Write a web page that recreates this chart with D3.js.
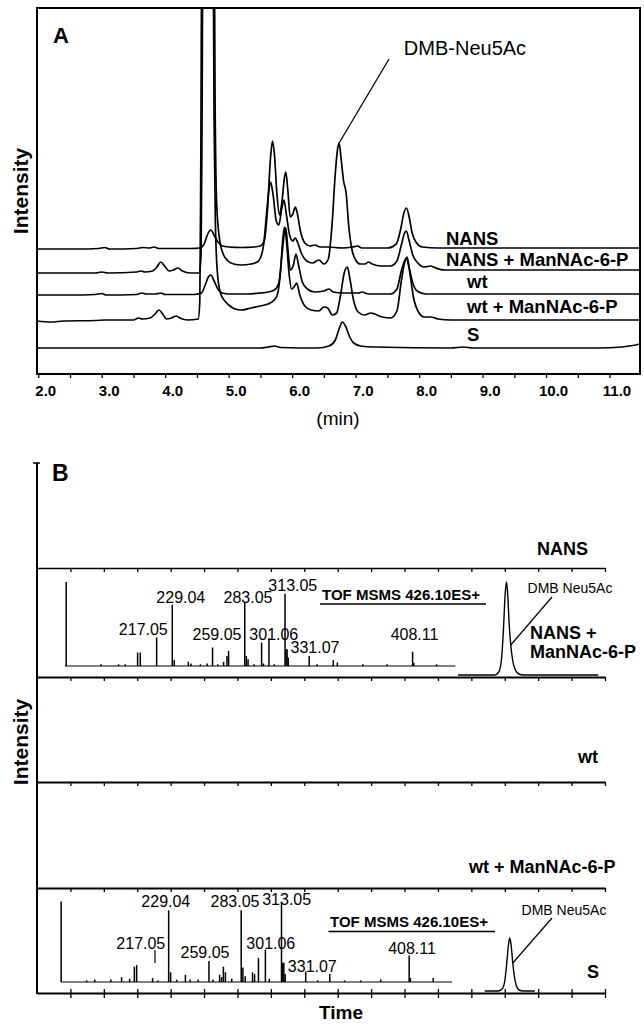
<!DOCTYPE html>
<html>
<head>
<meta charset="utf-8">
<script src="https://cdn.jsdelivr.net/npm/d3@7"></script>
<style>
  body { margin: 0; background: #fff; }
  svg text { font-family: "Liberation Sans", Arial, sans-serif; fill: #000; }
</style>
</head>
<body>
<svg id="fig"></svg>
<script>
// ---- data ----
// panel A: HPLC traces, [minutes, intensity above the trace's own baseline]
const minutesA = [2, 3, 4, 5, 6, 7, 8, 9, 10, 11];
const minuteLabelsA = ["2.0", "3.0", "4.0", "5.0", "6.0", "7.0", "8.0", "9.0", "10.0", "11.0"];
const tickStepsA = [2, 2.5, 3, 3.5, 4, 4.5, 5, 5.5, 6, 6.5, 7, 7.5, 8, 8.5, 9, 9.5, 10, 10.5, 11];
const sampleNames = ["NANS", "NANS + ManNAc-6-P", "wt", "wt + ManNAc-6-P", "S"];

const traceNANS = [[1.98,0],[2.6,0],[2.95,0.5],[3.05,1.5],[3.12,0],[3.55,0.5],[3.65,1.5],[3.75,1],[3.82,2],[3.9,0.5],[4.4,0.5],[4.55,1],[4.62,6],[4.67,15],[4.72,19],[4.77,14],[4.83,7],[4.9,3],[5.0,2],[5.2,1.5],[5.4,2],[5.5,3],[5.56,8],[5.61,38],[5.66,92],[5.69,108],[5.72,95],[5.76,55],[5.8,34],[5.84,48],[5.88,72],[5.9,77],[5.93,60],[5.97,32],[6.01,35],[6.05,42],[6.08,36],[6.13,18],[6.2,6],[6.28,3],[6.36,4],[6.44,2],[6.55,2],[6.8,1],[6.95,2],[7.03,3],[7.1,1],[7.5,1],[7.64,5],[7.71,20],[7.76,36],[7.8,41],[7.84,33],[7.89,16],[7.96,6],[8.05,2],[8.3,1],[8.6,1],[11.48,1]];
const traceNANSMan = [[1.98,0],[2.9,0],[3.0,1],[3.1,0],[3.55,1],[3.62,2],[3.68,1],[3.8,2],[3.87,6],[3.93,11],[3.99,7],[4.06,2],[4.13,3],[4.2,5],[4.27,2],[4.4,0],[4.54,0],[4.565,20],[4.58,150],[4.6,420],[4.765,420],[4.785,180],[4.81,70],[4.86,32],[4.92,18],[4.99,12],[5.08,9],[5.2,8],[5.35,9],[5.45,11],[5.5,15],[5.55,28],[5.6,62],[5.64,86],[5.66,91],[5.7,78],[5.75,52],[5.79,48],[5.84,66],[5.87,73],[5.91,58],[5.96,38],[6.01,32],[6.05,35],[6.09,30],[6.15,19],[6.23,12],[6.32,10],[6.42,13],[6.5,9],[6.57,14],[6.63,50],[6.68,100],[6.72,126],[6.74,130],[6.77,115],[6.81,92],[6.85,80],[6.89,48],[6.94,24],[7.0,13],[7.07,9],[7.15,9],[7.2,11],[7.26,9],[7.4,7],[7.55,7],[7.65,12],[7.72,28],[7.77,40],[7.8,42],[7.84,33],[7.9,18],[7.98,10],[8.08,6],[8.18,7],[8.26,5],[8.4,3],[8.7,3],[11.48,3]];
const traceWt = [[1.98,0],[2.5,0],[2.9,0.5],[3.0,1.5],[3.07,0],[3.55,0.5],[3.63,2],[3.7,1],[3.85,1],[3.93,2],[4.0,0.5],[4.45,0.5],[4.57,2],[4.63,10],[4.68,18],[4.72,20],[4.77,14],[4.83,6],[4.9,2],[5.0,1],[5.3,1],[5.5,2],[5.62,3],[5.72,5],[5.79,12],[5.84,40],[5.88,64],[5.9,67],[5.93,48],[5.97,25],[6.02,30],[6.06,41],[6.1,30],[6.16,13],[6.24,6],[6.35,3],[6.5,4],[6.58,6],[6.65,3],[6.8,2],[7.05,2],[7.1,3],[7.2,1],[7.55,1],[7.65,6],[7.72,24],[7.77,34],[7.8,37],[7.84,28],[7.9,12],[7.97,4],[8.1,1],[11.48,1]];
const traceWtMan = [[1.98,0],[2.2,-1],[2.4,0],[2.9,0.5],[3.05,1],[3.5,1],[3.58,3],[3.64,2],[3.76,3],[3.84,7],[3.9,11],[3.96,7],[4.02,2],[4.1,3],[4.17,5],[4.23,3],[4.35,1],[4.52,2],[4.545,20],[4.56,150],[4.58,420],[4.75,420],[4.77,200],[4.79,100],[4.82,50],[4.87,28],[4.94,20],[5.0,16],[5.1,12],[5.2,11],[5.35,13],[5.5,15],[5.62,17],[5.7,20],[5.76,25],[5.81,45],[5.85,80],[5.88,94],[5.91,80],[5.95,48],[5.99,32],[6.03,34],[6.07,38],[6.12,26],[6.2,15],[6.3,11],[6.42,10],[6.5,14],[6.56,13],[6.63,6],[6.7,8],[6.76,25],[6.82,48],[6.87,54],[6.91,42],[6.97,20],[7.04,9],[7.14,6],[7.24,8],[7.3,7],[7.42,4],[7.55,3],[7.65,10],[7.72,40],[7.77,58],[7.81,64],[7.85,50],[7.91,24],[7.99,9],[8.08,4],[8.18,4],[8.3,2],[8.5,1],[11.48,1]];
const traceS = [[1.98,0],[5.5,0],[5.62,1],[5.72,2],[5.82,0.5],[6.4,0],[6.58,2],[6.68,8],[6.74,19],[6.79,26],[6.84,22],[6.9,12],[6.97,5],[7.08,2],[7.3,1],[8.5,0],[8.7,1],[8.85,0],[10.8,0],[11.2,1],[11.48,4]];

// panel B: LC traces (time in tick intervals, relative intensity)
const ticksB = [1, 2, 3, 4, 5, 6, 7, 8, 9, 10, 11, 12, 13, 14, 15, 16, 17];
const chromNANSMan = [[12.6,0],[13.7,0],[13.82,3],[13.9,15],[13.96,45],[14.01,80],[14.05,93],[14.09,80],[14.13,52],[14.18,30],[14.24,14],[14.32,5],[14.42,1],[14.55,0],[16.8,0]];
const chromS = [[13.4,0],[13.8,0],[13.92,2],[14.0,10],[14.06,28],[14.11,46],[14.15,53],[14.19,46],[14.24,28],[14.29,14],[14.35,5],[14.43,1],[14.55,0],[14.9,0]];

// MS/MS spectra, [m/z, relative abundance]
const msNANSMan = [[150,1.0],[176,0.02],[189,0.02],[194,0.02],[203.2,0.16],[205.2,0.16],[217.4,0.34],[229.04,0.73],[230.5,0.07],[241,0.05],[243,0.03],[250,0.02],[255,0.03],[259.05,0.22],[263,0.02],[267.3,0.05],[269.8,0.12],[271,0.18],[283.05,0.76],[284.2,0.12],[285.5,0.08],[290,0.02],[295.6,0.28],[297,0.03],[301.06,0.33],[305,0.02],[313.05,0.86],[313.8,0.2],[314.6,0.2],[315.5,0.1],[331.07,0.12],[337,0.02],[349,0.07],[352,0.04],[371,0.02],[389,0.02],[408.11,0.17],[409,0.04],[426,0.02]];
const msS = [[149,1.0],[168,0.02],[174,0.03],[186,0.03],[194,0.06],[200,0.04],[203.5,0.19],[205.2,0.21],[217.05,0.05],[221,0.02],[229.04,0.89],[230.5,0.12],[235,0.03],[241.5,0.09],[245,0.03],[251,0.03],[259.05,0.26],[262,0.03],[267,0.09],[268.5,0.06],[269.8,0.19],[271.3,0.12],[276,0.04],[283.05,0.89],[284.3,0.18],[286,0.07],[291.5,0.12],[293,0.1],[295.9,0.3],[301.06,0.4],[304,0.04],[313.05,0.99],[313.9,0.24],[314.8,0.24],[315.8,0.1],[331.07,0.13],[340,0.02],[349,0.1],[360,0.02],[372,0.02],[387,0.03],[408.11,0.33],[409,0.05],[426,0.05]];
const msLabels = ["217.05", "229.04", "259.05", "283.05", "301.06", "313.05", "331.07", "408.11"];

// ---- drawing ----
const svg = d3.select("#fig").attr("width", 644).attr("height", 1025);

function addText(g, str, x, y, size, bold, anchor) {
  return g.append("text")
    .attr("x", x).attr("y", y)
    .attr("font-size", size)
    .attr("font-weight", bold ? "bold" : "normal")
    .attr("text-anchor", anchor || "start")
    .text(str);
}
function addLine(g, x1, y1, x2, y2, w) {
  return g.append("line")
    .attr("x1", x1).attr("y1", y1).attr("x2", x2).attr("y2", y2)
    .attr("stroke", "#000").attr("stroke-width", w || 1.3);
}

// Panel A
let xA = d3.scaleLinear().domain([1.98, 11.48]).range([37, 640]);
let yA = d3.scaleLinear().domain([0, 366]).range([374, 8]);

svg.append("clipPath").attr("id", "clipA")
  .append("rect").attr("x", 37).attr("y", 8).attr("width", 603).attr("height", 366);

const gA = svg.append("g");
const baseA = [125, 101, 79, 53, 26];
[traceNANS, traceNANSMan, traceWt, traceWtMan, traceS].forEach((tr, i) => {
  let line = d3.line()
    .x((d) => xA(d[0]))
    .y((d) => yA(baseA[i] + d[1]))
    .curve(d3.curveMonotoneX);
  gA.append("path")
    .datum(tr)
    .attr("d", line)
    .attr("fill", "none")
    .attr("stroke", "#000")
    .attr("stroke-width", 1.7)
    .attr("clip-path", "url(#clipA)");
});

gA.append("rect")
  .attr("x", 37).attr("y", 8).attr("width", 603).attr("height", 366)
  .attr("fill", "none").attr("stroke", "#000").attr("stroke-width", 2);

const axA = gA.append("g")
  .attr("transform", "translate(0,374)")
  .call(
    d3.axisBottom(xA)
      .tickValues(tickStepsA)
      .tickSize(4)
      .tickSizeOuter(0)
      .tickFormat((d) => {
        let i = minutesA.indexOf(d);
        return i >= 0 ? minuteLabelsA[i] : "";
      })
  );
axA.select(".domain").remove();
axA.selectAll(".tick line").attr("stroke", "#000").attr("stroke-width", 1.3);
axA.selectAll(".tick text")
  .attr("y", 11).attr("dx", 7)
  .attr("font-size", 15).attr("font-weight", "bold")
  .attr("font-family", '"Liberation Sans", Arial, sans-serif')
  .attr("fill", "#000");

addText(gA, "A", 53, 43, 22, true);
addText(gA, "(min)", 338, 425, 19, false, "middle");
addText(gA, "Intensity", 28, 191, 21, true, "middle")
  .attr("transform", "rotate(-90,28,191)");

// DMB-Neu5Ac label pointing at the NANS + ManNAc-6-P peak
const dmbPeak = d3.greatest(traceNANSMan.filter((d) => d[0] > 6.4 && d[0] < 7), (d) => d[1]);
addText(gA, "DMB-Neu5Ac", 465, 55, 20, false, "middle");
addLine(gA, 389, 59, xA(dmbPeak[0]), yA(baseA[1] + dmbPeak[1]), 1.3);

const labelPosA = [[446, 244.5], [446, 265.5], [467, 288], [467, 312.5], [467, 340.5]];
sampleNames.forEach((s, i) => addText(gA, s, labelPosA[i][0], labelPosA[i][1], 18.5, true));

// Panel B
let xB = d3.scaleLinear().domain([0, 17]).range([37, 605]);
const sepB = [568, 677, 782, 888, 993];
const gB = svg.append("g");

addLine(gB, 37, 463, 37, 994, 2);
addLine(gB, 33, 463, 40, 463, 1.5);

sepB.forEach((y, i) => {
  let ax = gB.append("g")
    .attr("transform", "translate(0," + y + ")")
    .call(d3.axisBottom(xB).tickValues(ticksB).tickSize(4).tickSizeOuter(0).tickFormat(""));
  ax.select(".domain").attr("stroke", "#000").attr("stroke-width", i === 0 ? 1.3 : 2);
  ax.selectAll(".tick line").attr("stroke", "#000").attr("stroke-width", 1.3);
  if (i === sepB.length - 1) ax.selectAll(".tick line").attr("y1", -4).attr("y2", 5);
});

const yChrom = d3.scaleLinear().domain([0, 100]).range([0, -100]);
const chromB = [
  { data: chromNANSMan, base: 675 },
  { data: chromS, base: 991 },
];
chromB.forEach((c) => {
  let line = d3.line()
    .x((d) => xB(d[0]))
    .y((d) => c.base + yChrom(d[1]))
    .curve(d3.curveMonotoneX);
  gB.append("path").datum(c.data).attr("d", line)
    .attr("fill", "none").attr("stroke", "#000").attr("stroke-width", 1.4);
});

// DMB Neu5Ac labels on the LC peaks
const flankNM = chromNANSMan.find((d) => d[0] === 14.18);
const flankS = chromS.find((d) => d[0] === 14.24);
addText(gB, "DMB Neu5Ac", 570, 593, 14, false, "middle");
addLine(gB, 552, 597, xB(flankNM[0]), 675 + yChrom(flankNM[1]), 1.2);
addText(gB, "DMB Neu5Ac", 564, 915, 14, false, "middle");
addLine(gB, 552, 918, xB(flankS[0]), 991 + yChrom(flankS[1]), 1.2);

// MS/MS insets
function drawSpectrum(peaks, xs, ys, labelPos) {
  let g = gB.append("g");
  addLine(g, xs(149), ys(0), xs(440), ys(0), 1.2);
  g.selectAll(".stick")
    .data(peaks)
    .enter()
    .append("line")
    .attr("class", "stick")
    .attr("x1", (d) => xs(d[0]))
    .attr("x2", (d) => xs(d[0]))
    .attr("y1", ys(0))
    .attr("y2", (d) => ys(d[1]))
    .attr("stroke", "#000")
    .attr("stroke-width", 1.5);
  msLabels.forEach((s, i) => addText(g, s, labelPos[i][0], labelPos[i][1], 16, false, "middle"));
  return g;
}

const msXNM = d3.scaleLinear().domain([150, 440]).range([66.2, 455.4]);
const msYNM = d3.scaleLinear().domain([0, 1]).range([666, 582]);
drawSpectrum(msNANSMan, msXNM, msYNM,
  [[143.3, 635.3], [180.8, 603.3], [217, 640.3], [248, 603.3], [273.8, 640.3], [292.8, 591], [315, 653.3], [414.5, 640]]);
addText(gB, "TOF MSMS 426.10ES+", 322, 600, 14, true).attr("textLength", 158).attr("lengthAdjust", "spacingAndGlyphs");
addLine(gB, 320, 604, 486, 604, 1.3);

const msXS = d3.scaleLinear().domain([150, 440]).range([62.5, 452]);
const msYS = d3.scaleLinear().domain([0, 1]).range([982, 901.5]);
drawSpectrum(msS, msXS, msYS,
  [[140.8, 949], [165.8, 906.6], [205, 958.3], [235, 906.6], [270.8, 949], [286.7, 904.5], [312.3, 971.6], [412, 954]]);
addLine(gB, 155, 950, 155, 963, 1.2);
addText(gB, "TOF MSMS 426.10ES+", 330, 926.5, 14, true).attr("textLength", 158).attr("lengthAdjust", "spacingAndGlyphs");
addLine(gB, 328.5, 931.5, 495, 931.5, 1.3);

// sample labels
addText(gB, "NANS", 537, 554.5, 18, true);
addText(gB, "NANS +", 530, 639, 18, true);
addText(gB, "ManNAc-6-P", 530, 658, 18, true);
addText(gB, "wt", 578, 763, 18, true);
addText(gB, "wt + ManNAc-6-P", 469, 873, 18, true);
addText(gB, "S", 587, 978, 18, true);

addText(gB, "B", 52, 481, 23, true);
addText(gB, "Time", 341, 1019, 19, true, "middle");
addText(gB, "Intensity", 28, 742, 21, true, "middle")
  .attr("transform", "rotate(-90,28,742)");
</script>
</body>
</html>
